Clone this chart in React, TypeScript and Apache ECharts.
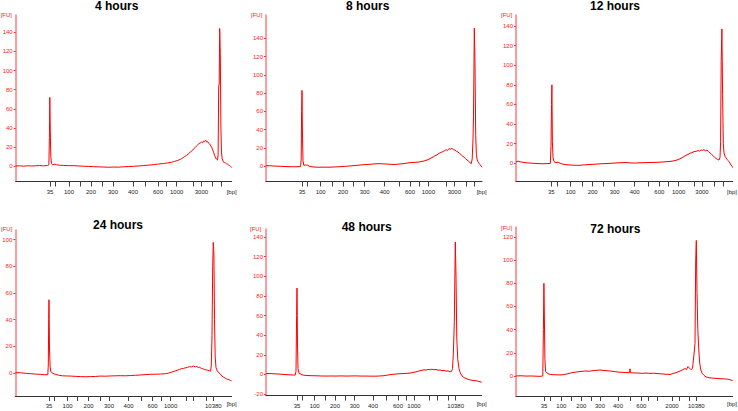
import React, { useEffect, useRef } from 'react';
import * as echarts from 'echarts';

// ---- data -------------------------------------------------------------
// x values are migration positions (arbitrary units along the run), y in FU
const LADDER_BP = [35, 50, 100, 150, 200, 250, 300, 400, 500, 600, 700, 1000, 2000, 3000, 7000, 10380];
const LABELS_TOP = ['35', '', '100', '', '200', '', '300', '400', '', '600', '', '1000', '', '3000', '', ''];
const LABELS_MID = ['35', '', '100', '', '200', '', '300', '400', '', '600', '', '1000', '', '', '', '10380'];
const LABELS_72 = ['35', '', '100', '', '200', '', '300', '400', '', '600', '', '', '2000', '', '', '10380'];

const TICKS_4H = [34.3, 40, 53.3, 64.7, 75.3, 86.3, 97.3, 117.3, 130, 142.3, 151, 161, 177.7, 185.7, 197, 205.3];
const TICKS_8H = [36, 41.7, 54.7, 66.3, 77, 87.7, 98.7, 118.7, 133.3, 144, 153.7, 162.3, 180, 188.3, 200.7, 208.7];
const TICKS_12H = [35.3, 41.7, 54.7, 66, 76.7, 87.7, 98.7, 118.7, 132.7, 143.3, 152.7, 162.7, 178.7, 186, 198.7, 207];
const TICKS_24H = [33.7, 39, 52.3, 62.3, 73.3, 84.7, 93.7, 113.3, 126.3, 137.3, 146.3, 155.3, 170.7, 178, 190.7, 198];
const TICKS_48H = [31, 36.7, 48.7, 59, 69, 79.3, 88.7, 107, 120.3, 132, 140.3, 148, 163.7, 171, 182.7, 189.7];
const TICKS_72H = [28, 34.3, 45.3, 55.3, 65.3, 75, 84, 102, 114.7, 125.3, 132.7, 141.7, 156, 163.3, 173.3, 180.3];

const FU_TICKS_140 = [0, 20, 40, 60, 80, 100, 120, 140];
const FU_TICKS_100 = [0, 20, 40, 60, 80, 100];
const FU_TICKS_48H = [-20, 0, 20, 40, 60, 80, 100, 120, 140];
const FU_TICKS_120 = [0, 20, 40, 60, 80, 100, 120];

const TITLES = ['4 hours', '8 hours', '12 hours', '24 hours', '48 hours', '72 hours'];

const TRACE_4H = [
  [0, 0.3], [4, 0.5], [8, 0.1], [12, 0.6], [16, 0.3], [20, 0.5], [24, 0.8], [28, 0.4], [32, 0.9], [33.2, 1.5],
  [33.7, 30], [34.1, 72], [34.6, 36], [35.1, 10], [35.8, 3], [37, 1.6], [39, 2.2], [41, 1.6], [44, 1.1], [48, 0.9],
  [53, 0.6], [58, 0.7], [63, 0.3], [68, 0.1], [73, -0.2], [78, -0.4], [83, -0.6], [88, -0.8], [93, -1], [98, -0.8],
  [103, -0.9], [108, -0.5], [113, -0.3], [118, 0], [123, 0.3], [128, 0.8], [133, 1.2], [138, 1.8], [143, 2.4], [148, 2.9],
  [152, 3.6], [156, 4.2], [159, 5.2], [162, 6.1], [165, 7.4], [167, 8.8], [169, 10.2], [171, 11.5], [173, 13.4], [175, 15.2],
  [177, 16.8], [178.5, 18.9], [180, 20.1], [181.5, 21.8], [183, 23.6], [184.5, 24.3], [186, 25.4], [187, 24.6], [188, 26.5], [189, 26],
  [190, 27.2], [191, 25.3], [192, 25.8], [193, 23.9], [194, 23.2], [195, 21.4], [196, 19.8], [197, 17.1], [198, 14.2], [199, 11],
  [200, 8.6], [201, 7.3], [201.8, 6.5], [202.4, 12], [203, 84], [203.5, 86], [204, 144], [204.6, 118], [205.2, 40], [205.8, 14],
  [206.5, 8], [207.3, 5.5], [208, 4.2], [209, 3.8], [210, 3.4], [211, 2.5], [212, 2.2], [213, 1.2], [214, 0.6], [215, -0.2], [216, -1.2],
];

const TRACE_8H = [
  [0, 0.7], [4, 0.6], [8, 0.3], [12, 0.1], [16, 0], [20, -0.3], [24, -0.4], [28, -0.5], [32, -0.4], [34.6, -0.3],
  [35.2, 8], [35.6, 60], [36, 83], [36.5, 30], [37, 6], [37.8, 1], [39.5, 1.5], [41.5, 1.2], [44, -0.2], [48, -0.8],
  [53, -1], [58, -0.9], [63, -1], [68, -0.7], [73, -0.5], [78, -0.1], [83, 0.3], [88, 0.8], [93, 1.3], [98, 1.8],
  [103, 2.1], [108, 2.6], [113, 2.9], [118, 2.6], [123, 2.3], [128, 2], [133, 2.4], [138, 3], [143, 3.9], [148, 4.3],
  [152, 4.6], [155, 5.1], [158, 5.8], [161, 6.9], [164, 8.4], [167, 10.1], [169, 11.6], [171, 12.5], [173, 14.2], [175, 15],
  [177, 16.3], [178.5, 17], [180, 18.1], [181.5, 17.6], [183, 19.2], [184.5, 18.7], [186, 19.6], [187.5, 18.2], [189, 17.8], [190.5, 16.4],
  [192, 15.6], [193.5, 14.1], [195, 12.8], [196.5, 11.2], [198, 10], [199.5, 8.4], [201, 7], [202.5, 5.6], [204, 4], [205.3, 3],
  [206.2, 8], [207, 30], [207.5, 56], [208.3, 151], [209, 112], [209.7, 34], [210.4, 13], [211.2, 7], [212, 5], [213, 3.2],
  [214, 1.8], [215, 0.4], [216, -1],
];

const TRACE_12H = [
  [0, 1.4], [2, 2.2], [4, 1.5], [7, 1], [10, 0.5], [14, 0.2], [18, -0.1], [22, -0.3], [26, -0.5], [30, -0.4],
  [34.3, -0.2], [35, 17], [35.5, 60], [35.9, 80], [36.4, 22], [37, 6], [38, 1.6], [40, 0.6], [42, 1.1], [45, -0.4],
  [49, -1.3], [54, -1.8], [58, -2], [63, -2.1], [68, -1.7], [73, -1.3], [78, -1], [84, -0.6], [90, -0.3], [96, 0],
  [101, 0.4], [106, 0.6], [110, 0.8], [114, 0.4], [119, 0.2], [124, 0.5], [129, 0.6], [134, 0.8], [139, 0.9], [144, 1.1],
  [149, 1.5], [153, 1.8], [157, 2.3], [160, 3], [163, 4.1], [166, 5.6], [168, 6.9], [170, 8.1], [172, 9], [174, 10.2],
  [176, 10.8], [178, 11.9], [180, 12.2], [182, 12.9], [183.5, 12.5], [185, 13.6], [186.5, 13.1], [188, 13.9], [189.5, 12.8], [191, 13.4],
  [192.5, 11.9], [194, 10.6], [195.5, 9.1], [197, 7.8], [198.5, 6.2], [200, 5], [201.5, 3.9], [203, 3.3], [204, 6], [204.6, 22],
  [205.2, 105], [205.9, 137], [206.6, 70], [207.3, 20], [208, 10.5], [209, 7.2], [210, 5.5], [211, 4], [212, 2.9], [213, 1.6],
  [214, 0.2], [215, -1.8], [216, -3], [216.7, -4.4],
];

const TRACE_24H = [
  [0, 0.3], [5, 0.2], [10, -0.2], [15, -0.5], [20, -0.8], [25, -1], [29, -1.3], [32.5, -1.2], [33, 6], [33.4, 40],
  [33.7, 55], [34.2, 18], [34.8, 5], [35.5, 1], [37, 0], [40, -1], [43, -1.6], [47, -2.1], [51, -2.2], [55, -2.3],
  [60, -2.5], [65, -2.7], [70, -2.8], [75, -2.7], [80, -2.6], [85, -2.3], [90, -2.4], [95, -2.2], [100, -2.1], [105, -2],
  [110, -2.1], [115, -1.9], [120, -1.7], [125, -1.5], [130, -1.2], [135, -1], [140, -0.9], [145, -0.8], [150, -0.5], [153, -0.1],
  [156, 0.6], [159, 1.3], [162, 2.1], [164, 2.6], [166, 3.2], [168, 3.4], [170, 3.9], [172, 4.1], [174, 4.8], [176, 4.5],
  [178, 5.2], [180, 4.6], [181.5, 4.9], [183, 4.1], [184.5, 4.3], [186, 3.4], [188, 3], [190, 2.5], [192, 2.1], [194, 1.7],
  [195.3, 1.4], [196, 6], [196.7, 28], [197.4, 80], [198, 98], [198.6, 90], [199.2, 40], [199.9, 12], [200.7, 4], [202, 1.5],
  [203.5, 0.2], [205, -0.8], [206.5, -2.2], [208, -3], [209.5, -3.6], [211, -4.3], [212.5, -4.8], [214, -5.1], [215.3, -5.7], [216.3, -6],
];

const TRACE_48H = [
  [0, 1], [5, 0.8], [10, 0.5], [15, 0.2], [20, -0.2], [25, -0.5], [29.2, -0.7], [30, 3], [30.6, 60], [31, 88],
  [31.5, 30], [32, 6], [33, 1.2], [35, 0.2], [37, -0.7], [41, -1.1], [45, -1.3], [50, -1.4], [55, -1.6], [60, -1.7],
  [65, -1.6], [70, -1.7], [75, -1.5], [80, -1.7], [85, -1.6], [90, -1.5], [95, -1.7], [100, -1.7], [105, -1.8], [110, -1.8],
  [114, -1.6], [118, -1.3], [122, -0.6], [126, 0], [130, 0.4], [134, 0.7], [138, 0.9], [141, 1.1], [144, 1.3], [147, 2],
  [150, 2.6], [152, 3.2], [154, 3.8], [156, 4.2], [158, 4.7], [160, 4.4], [162, 5], [164, 4.8], [166, 5.3], [168, 4.7],
  [170, 5.1], [172, 4.2], [174, 4.6], [176, 3.8], [178, 4.1], [180, 3.3], [182, 3.6], [184, 2.6], [185.5, 3], [186.5, 6],
  [187.3, 20], [188.3, 53], [189.3, 135], [190, 100], [190.8, 36], [191.8, 15], [193, 6], [194.3, 1.5], [196, -1.5], [198, -3.2],
  [200, -4.2], [202, -5], [204, -5.6], [206, -5.9], [208, -6.3], [210, -6.5], [212, -6.9], [214, -7.4], [215.7, -8],
];

const TRACE_72H = [
  [0, 0], [5, 0.2], [10, -0.1], [15, 0], [20, -0.2], [24, -0.3], [26.8, 0], [27.4, 40], [27.9, 80], [28.4, 50],
  [28.9, 14], [29.6, 4], [31, 2.6], [33, 1.6], [36, 1.2], [40, 1], [45, 0.9], [49, 1.4], [53, 2.2], [57, 3],
  [61, 3.5], [65, 3.9], [69, 4.3], [73, 4.1], [77, 4.6], [81, 4.9], [84, 5.2], [87, 4.8], [91, 4.5], [95, 4.2],
  [99, 3.7], [103, 3.3], [107, 3.1], [111, 2.9], [113.6, 2.8], [114, 6.2], [114.4, 2.8], [118, 2.6], [122, 2.5], [126, 2.3],
  [130, 2.5], [134, 2.2], [138, 2.4], [142, 2], [146, 1.8], [150, 1.5], [154, 1.3], [157, 2.2], [160, 2.9], [163, 3.9],
  [165, 4.6], [167, 5.6], [169, 6.4], [170.5, 5.6], [172, 8.2], [173.5, 6.8], [175, 5.4], [176.5, 6.5], [178, 19], [179, 28],
  [179.7, 100], [180.3, 117], [181, 72], [181.8, 40], [182.7, 24], [183.6, 12], [184.6, 6], [186, 2.4], [188, 0.5], [190, -0.8],
  [193, -1.5], [196, -1.8], [199, -2], [202, -2.2], [205, -2.4], [208, -2.5], [211, -2.7], [214, -3.3], [216.7, -4],
];

// ---- layout (positions / styles) -----------------------------------------
const PANELS = [
  { title: TITLES[0], data: TRACE_4H, ticks: TICKS_4H, labels: LABELS_TOP, fuTicks: FU_TICKS_140,
    left: 15.7, top: 15, width: 216, height: 166.5, yMin: -15.9, yMax: 158.1, titleX: 116.7, titleY: 5.8, fuX: 0.7, fuY: 15, bpX: 226.7, bpY: 191.5 },
  { title: TITLES[1], data: TRACE_8H, ticks: TICKS_8H, labels: LABELS_TOP, fuTicks: FU_TICKS_140,
    left: 266, top: 15, width: 216, height: 166.5, yMin: -16.6, yMax: 165.4, titleX: 367.7, titleY: 5.8, fuX: 251, fuY: 15, bpX: 476.7, bpY: 191.5 },
  { title: TITLES[2], data: TRACE_12H, ticks: TICKS_12H, labels: LABELS_TOP, fuTicks: FU_TICKS_140,
    left: 516, top: 15, width: 216.7, height: 166.5, yMin: -18.6, yMax: 151.2, titleX: 615, titleY: 5.8, fuX: 501, fuY: 15, bpX: 727, bpY: 191.5 },
  { title: TITLES[3], data: TRACE_24H, ticks: TICKS_24H, labels: LABELS_MID, fuTicks: FU_TICKS_100,
    left: 15.3, top: 230, width: 216.3, height: 166, yMin: -17.25, yMax: 107.3, titleX: 118, titleY: 225, fuX: 1, fuY: 229, bpX: 226.7, bpY: 403.5 },
  { title: TITLES[4], data: TRACE_48H, ticks: TICKS_48H, labels: LABELS_MID, fuTicks: FU_TICKS_48H,
    left: 266, top: 229, width: 215.7, height: 166.5, yMin: -21.5, yMax: 148.2, titleX: 366.7, titleY: 227, fuX: 250, fuY: 228.5, bpX: 476.7, bpY: 403.5 },
  { title: TITLES[5], data: TRACE_72H, ticks: TICKS_72H, labels: LABELS_72, fuTicks: FU_TICKS_120,
    left: 516, top: 227.3, width: 216.7, height: 168.7, yMin: -17.3, yMax: 128.4, titleX: 615.3, titleY: 229, fuX: 501, fuY: 227.5, bpX: 727, bpY: 403.5 },
];

const FONT = '"Liberation Sans", Arial, sans-serif';

function buildOption() {
  const grid: any[] = [];
  const xAxis: any[] = [];
  const yAxis: any[] = [];
  const series: any[] = [];
  const graphic: any[] = [];

  PANELS.forEach((p, i) => {
    grid.push({ left: p.left, top: p.top, width: p.width, height: p.height, containLabel: false, outerBoundsMode: 'none' });
    const axisMax = p.data[p.data.length - 1][0];
    xAxis.push({
      type: 'value', gridIndex: i, min: 0, max: axisMax,
      axisLine: { show: true, onZero: false, lineStyle: { color: '#333', width: 1 } },
      axisTick: { show: true, length: 5, customValues: p.ticks, lineStyle: { color: '#444', width: 1 } },
      axisLabel: {
        show: true, customValues: p.ticks, margin: 7, fontSize: 6, color: '#222', fontFamily: FONT, hideOverlap: false,
        formatter: (v: number) => {
          const k = p.ticks.findIndex((t) => Math.abs(t - v) < 1e-6);
          return k >= 0 ? p.labels[k] : '';
        },
      },
      splitLine: { show: false },
    });
    yAxis.push({
      type: 'value', gridIndex: i, min: p.yMin, max: p.yMax,
      axisLine: { show: true, onZero: false, lineStyle: { color: '#ff7a7a', width: 1.5 } },
      axisTick: { show: true, length: 2, customValues: p.fuTicks, lineStyle: { color: '#ff3030' } },
      axisLabel: { show: true, customValues: p.fuTicks, margin: 3, fontSize: 6, color: '#ff2020', fontFamily: FONT },
      splitLine: { show: false },
    });
    series.push({
      type: 'line', xAxisIndex: i, yAxisIndex: i, data: p.data, showSymbol: false, symbol: 'none',
      lineStyle: { color: '#ff0000', width: 1 }, silent: true,
    });
    graphic.push({
      type: 'text', x: p.titleX, y: p.titleY,
      style: { text: p.title, font: `bold 12px ${FONT}`, fill: '#000', textAlign: 'center', align: 'center', textVerticalAlign: 'middle', verticalAlign: 'middle' },
    });
    graphic.push({
      type: 'text', x: p.fuX, y: p.fuY,
      style: { text: '[FU]', font: `6px ${FONT}`, fill: '#ff2020', textAlign: 'left', align: 'left', textVerticalAlign: 'middle', verticalAlign: 'middle' },
    });
    graphic.push({
      type: 'text', x: p.bpX, y: p.bpY,
      style: { text: '[bp]', font: `6px ${FONT}`, fill: '#222', textAlign: 'left', align: 'left', textVerticalAlign: 'middle', verticalAlign: 'middle' },
    });
  });

  return {
    animation: false,
    backgroundColor: '#ffffff',
    grid, xAxis, yAxis, series, graphic,
  };
}

export default function App() {
  const ref = useRef<HTMLDivElement>(null);
  useEffect(() => {
    if (!ref.current) return;
    const chart = echarts.init(ref.current, undefined, { renderer: 'svg' });
    chart.setOption(buildOption() as any);
    return () => chart.dispose();
  }, []);
  return (
    <div
      ref={ref}
      style={{ position: 'absolute', left: 0, top: 0, width: 738, height: 411, background: '#fff' }}
    />
  );
}
